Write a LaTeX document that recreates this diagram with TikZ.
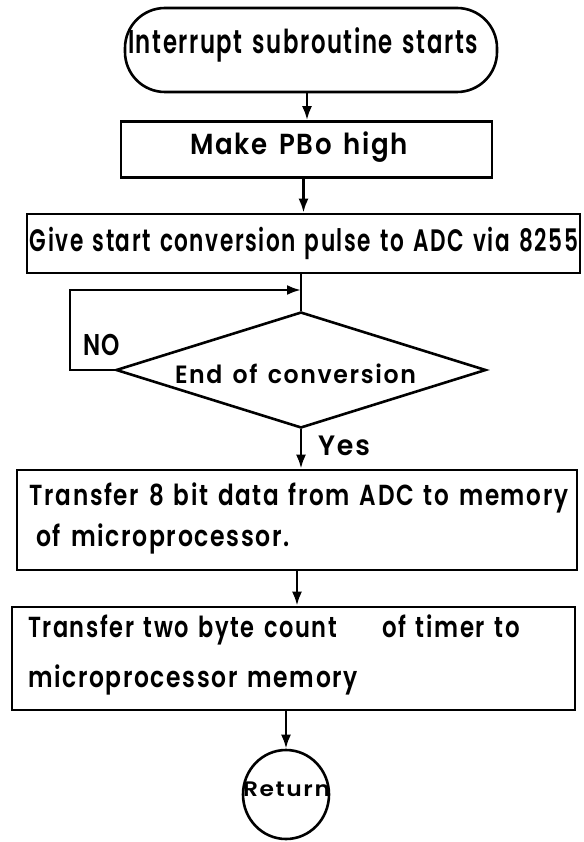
\documentclass[tikz,border=0pt]{standalone}
\usepackage{fontspec}
\usepackage{graphicx}
\setmainfont{Poppins}
\newfontfamily\labelfont{Poppins SemiBold}[LetterSpace=7,WordSpace=1.4]
\usetikzlibrary{shapes.geometric,arrows.meta}

% set #3 at size #2 and stretch it to width #1, keeping its height
\newcommand{\fitlabel}[3]{{\labelfont\fontsize{#2}{#2}\selectfont\resizebox{#1}{\height}{#3}}}

\tikzset{
  flowline/.style={line width=2.6pt},
  flowarrow/.style={line width=2.6pt,-{Latex[length=14pt,width=10pt]}},
  stepbox/.style={draw,line width=2.6pt,rectangle,inner sep=0pt},
  lbl/.style={anchor=base west,inner sep=0pt,outer sep=0pt},
}

\begin{document}
\begin{tikzpicture}[x=1pt,y=-1pt]
\useasboundingbox (0,0) rectangle (583,842);

% shapes
\node[stepbox,rounded corners=40pt,minimum width=372pt,minimum height=84pt] (start) at (311,50) {};
\node[stepbox,minimum width=371pt,minimum height=56pt] (b1) at (306.5,149.5) {};
\node[stepbox,minimum width=553pt,minimum height=59pt] (b2) at (303.5,243.5) {};
\node[draw,diamond,line width=2.6pt,inner sep=0pt,minimum width=370pt,minimum height=116pt] (d) at (301,370) {};
\node[stepbox,minimum width=560pt,minimum height=100pt] (b3) at (297,520) {};
\node[stepbox,minimum width=563pt,minimum height=103pt] (b4) at (293.5,658.5) {};
\node[draw,ellipse,line width=2.6pt,inner sep=0pt,minimum width=86pt,minimum height=89pt] (ret) at (286,794.5) {};

% texts
\node[lbl] (t0) at (128,54) {\fitlabel{350pt}{33pt}{Interrupt subroutine starts}};
\node[lbl] (t1) at (190,155) {\fitlabel{218pt}{29pt}{Make PBo high}};
\node[lbl] (t2) at (30,251) {\fitlabel{548pt}{31pt}{Give start conversion pulse to ADC via 8255}};
\node[lbl] (tno) at (83,355) {\fitlabel{37pt}{30pt}{NO}};
\node[lbl] (td) at (175,383) {\fitlabel{241pt}{25pt}{End of conversion}};
\node[lbl] (tyes) at (318,455) {\fitlabel{52pt}{28pt}{Yes}};
\node[lbl] (t3a) at (30,505) {\fitlabel{538pt}{29pt}{Transfer 8 bit data from ADC to memory}};
\node[lbl] (t3b) at (36,546) {\fitlabel{254pt}{29pt}{of microprocessor.}};
\node[lbl] (t4a) at (28,637) {\fitlabel{309pt}{29pt}{Transfer two byte count}};
\node[lbl] (t4b) at (382,637) {\fitlabel{138pt}{29pt}{of timer to}};
\node[lbl] (t4c) at (28,687) {\fitlabel{330pt}{29pt}{microprocessor memory}};
\node[lbl] (tret) at (243,796) {\fitlabel{87pt}{21pt}{Return}};

% connectors
\coordinate (loop) at (70,290);
\draw[flowarrow] (start.south -| 307,0) -- (b1.north -| 307,0);
\draw[flowarrow] (b1.south -| b2.north) -- (b2.north);
\draw[flowline] (b2.south -| d.north) -- (d.north);
\draw[flowarrow] (d.west) -- (d.west -| loop) -- (loop) -- (loop -| d.north);
\draw[flowarrow] (d.south) -- (d.south |- b3.north);
\draw[flowarrow] (b3.south) -- (b3.south |- b4.north);
\draw[flowarrow] (ret.north |- b4.south) -- (ret.north);
\end{tikzpicture}
\end{document}
